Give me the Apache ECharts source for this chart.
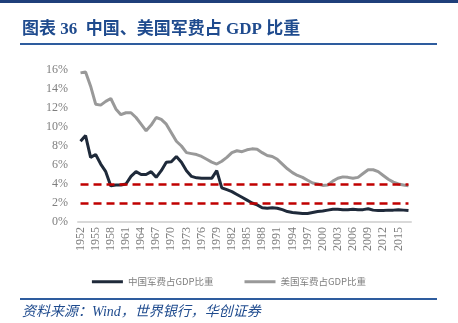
<!DOCTYPE html>
<html>
<head>
<meta charset="utf-8">
<script src="https://cdn.jsdelivr.net/npm/echarts@6/dist/echarts.min.js"></script>
<style>
  html, body { margin: 0; padding: 0; background: #fff; }
  #chart { width: 458px; height: 323px; }
</style>
</head>
<body>
<div id="chart"></div>
<script>
// Years 1952–2017
const years = [];
for (let y = 1952; y <= 2017; y++) years.push(String(y));

// Military spending as % of GDP, China
const chinaShare = [
  8.5, 9.1, 6.8, 7.1, 6.1, 5.3, 3.8, 3.9, 3.9, 4.0,
  4.8, 5.3, 5.0, 5.0, 5.3, 4.7, 5.4, 6.3, 6.35, 6.9,
  6.3, 5.4, 4.8, 4.65, 4.6, 4.6, 4.6, 5.4, 3.6, 3.4,
  3.2, 2.9, 2.6, 2.3, 2.0, 1.8, 1.5, 1.45, 1.5, 1.45,
  1.3, 1.1, 1.0, 0.95, 0.9, 0.9, 1.0, 1.1, 1.15, 1.25,
  1.35, 1.35, 1.3, 1.3, 1.35, 1.3, 1.3, 1.4, 1.25, 1.2,
  1.2, 1.25, 1.25, 1.3, 1.25, 1.2
];

// Military spending as % of GDP, United States
const usShare = [
  15.7, 15.8, 14.3, 12.4, 12.3, 12.7, 13.0, 11.9, 11.3, 11.5,
  11.5, 11.0, 10.3, 9.6, 10.2, 11.0, 10.8, 10.3, 9.4, 8.5,
  8.0, 7.3, 7.2, 7.1, 6.9, 6.6, 6.3, 6.1, 6.4, 6.8,
  7.3, 7.5, 7.4, 7.6, 7.7, 7.65, 7.3, 7.0, 6.9, 6.6,
  6.1, 5.6, 5.2, 4.9, 4.7, 4.4, 4.1, 4.0, 3.85, 3.9,
  4.3, 4.6, 4.75, 4.7, 4.6, 4.7, 5.1, 5.5, 5.5, 5.3,
  4.9, 4.5, 4.2, 4.0, 3.9, 3.8
];

// Reference levels drawn as dashed red lines
const refLevels = [4, 2];

const seriesNames = ['中国军费占GDP比重', '美国军费占GDP比重'];
const titleText = '图表 36  中国、美国军费占 GDP 比重';
const sourceText = '资料来源：Wind，世界银行，华创证券';

const chart = echarts.init(document.getElementById('chart'), null, { renderer: 'canvas' });

const serif = '"Liberation Serif", "Times New Roman", serif';
const navy = '#1f4b8e';

chart.setOption({
  animation: false,
  backgroundColor: '#ffffff',
  graphic: [
    { type: 'rect', shape: { x: 0, y: 0, width: 458, height: 3 }, style: { fill: '#1f3f7a' } },
    { type: 'rect', shape: { x: 20, y: 43, width: 417, height: 2 }, style: { fill: '#2e5c9e' } },
    { type: 'rect', shape: { x: 20, y: 298, width: 417, height: 2 }, style: { fill: '#2e5c9e' } },
    {
      type: 'text', left: 22, top: 21,
      style: {
        text: titleText, fill: navy,
        font: 'bold 17px "Liberation Serif", "Noto Sans CJK SC", serif'
      }
    },
    {
      type: 'text', left: 22, top: 305,
      style: {
        text: sourceText, fill: navy,
        font: 'italic 14px "Liberation Serif", "Noto Sans CJK SC", serif'
      }
    }
  ],
  legend: {
    top: 272,
    left: 'center',
    icon: 'rect',
    itemWidth: 31,
    itemHeight: 3,
    itemGap: 31,
    textStyle: { color: '#7f7f7f', fontSize: 9.5, fontFamily: '"Noto Sans CJK SC", sans-serif' },
    data: seriesNames
  },
  grid: { left: 78, right: 47, top: 70, bottom: 101 },
  xAxis: {
    type: 'category',
    data: years,
    boundaryGap: true,
    axisLine: { lineStyle: { color: '#d9d9d9', width: 2 } },
    axisTick: { show: false },
    axisLabel: {
      interval: 2,
      rotate: 90,
      margin: 5,
      color: '#7f7f7f',
      fontSize: 12,
      fontFamily: serif
    }
  },
  yAxis: {
    type: 'value',
    min: 0,
    max: 16,
    interval: 2,
    splitLine: { show: false },
    axisLine: { show: false },
    axisTick: { show: false },
    axisLabel: {
      formatter: '{value}%',
      margin: 10,
      color: '#7f7f7f',
      fontSize: 12,
      fontFamily: serif
    }
  },
  series: [
    {
      name: seriesNames[0],
      type: 'line',
      data: chinaShare,
      showSymbol: false,
      z: 3,
      lineStyle: { color: '#1f2a3a', width: 3 },
      itemStyle: { color: '#1f2a3a' }
    },
    {
      name: seriesNames[1],
      type: 'line',
      data: usShare,
      showSymbol: false,
      z: 2,
      lineStyle: { color: '#999999', width: 3 },
      itemStyle: { color: '#999999' },
      markLine: {
        silent: true,
        symbol: 'none',
        label: { show: false },
        lineStyle: { color: '#c00000', width: 2.5, type: [8, 5] },
        data: refLevels.map(v => [
          { coord: [years[0], v] },
          { coord: [years[years.length - 1], v] }
        ])
      }
    }
  ]
});
</script>
</body>
</html>
